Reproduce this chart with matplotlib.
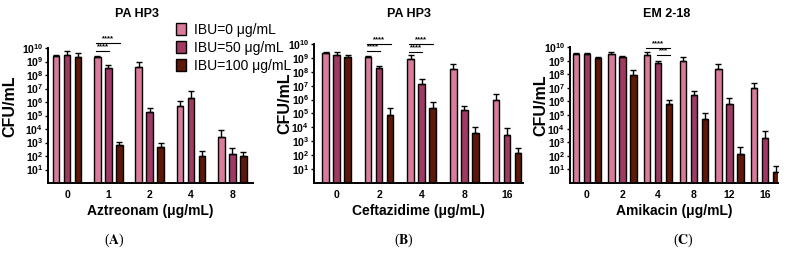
import numpy as np
import matplotlib
matplotlib.use("Agg")
import matplotlib.pyplot as plt
from matplotlib.patches import Patch
from matplotlib.ticker import FixedLocator, FixedFormatter, NullLocator

plt.rcParams["font.family"] = ["Liberation Sans", "DejaVu Sans"]
plt.rcParams["mathtext.fontset"] = "custom"
plt.rcParams["mathtext.rm"] = "Liberation Sans:bold"
plt.rcParams["mathtext.it"] = "Liberation Sans:bold"
plt.rcParams["mathtext.bf"] = "Liberation Sans:bold"

SERIES = ["IBU=0 \u03bcg/mL", "IBU=50 \u03bcg/mL", "IBU=100 \u03bcg/mL"]
COLORS = ["#DA7A9C", "#9E3A64", "#5E1808"]

# panel A: PA HP3, aztreonam
A_doses = ["0", "1", "2", "4", "8"]
A_mean = [[2.4e9, 2.1e9, 3.9e8, 5.1e5, 2.6e3],
          [3.2e9, 3.2e8, 1.7e5, 2.1e6, 150],
          [2.1e9, 630, 430, 98, 98]]
A_sd = [[8e8, 6e8, 6.1e8, 7.9e5, 5.7e3],
        [2.4e9, 2.2e8, 1.7e5, 5.0e6, 260],
        [2.2e9, 470, 520, 140, 100]]

# panel B: PA HP3, ceftazidime
B_doses = ["0", "2", "4", "8", "16"]
B_mean = [[2.1e9, 1.1e9, 7.9e8, 1.6e8, 1.0e6],
          [1.7e9, 1.9e8, 1.3e7, 1.7e5, 3.0e3],
          [1.1e9, 7.6e4, 2.5e5, 4.2e3, 140]]
B_sd = [[4e8, 2e8, 7e8, 2.1e8, 1.7e6],
        [8e8, 5e7, 1.5e7, 1.6e5, 5.5e3],
        [6e8, 1.7e5, 4.3e5, 6.8e3, 180]]

# panel C: EM 2-18, amikacin
C_doses = ["0", "2", "4", "8", "12", "16"]
C_mean = [[2.9e9, 3.2e9, 2.8e9, 1.0e9, 2.3e8, 1.0e7],
          [2.9e9, 1.7e9, 7.1e8, 2.9e6, 6.0e5, 1.9e3],
          [1.5e9, 8.5e7, 6.3e5, 4.8e4, 140, 7]]
C_sd = [[7e8, 1.1e9, 1.5e9, 9e8, 3.7e8, 1.1e7],
        [7e8, 4e8, 2.4e8, 2.9e6, 1.3e6, 4.9e3],
        [2e8, 1.1e8, 6.7e5, 8.2e4, 340, 12]]

# significance brackets: (group, series_from, series_to, line height, stars)
A_sig = [(1, 0, 2, 2.3e10, "****"), (1, 0, 1, 5.6e9, "****")]
B_sig = [(1, 0, 2, 1.05e10, "****"), (1, 0, 1, 3.2e9, "****"),
         (2, 0, 2, 1.05e10, "****"), (2, 0, 1, 2.8e9, "****")]
C_sig = [(2, 0, 2, 8e9, "****"), (2, 1, 2, 2.5e9, "***")]

PANELS = [
    dict(doses=A_doses, mean=A_mean, sd=A_sd, sig=A_sig, title="PA HP3",
         xlabel="Aztreonam (\u03bcg/mL)", tag="A", rect=[0.0611, 0.2907, 0.2608, 0.523],
         xlim=(-0.46, 4.50), title_px=137, tag_x=114, ylab_x=-0.150),
    dict(doses=B_doses, mean=B_mean, sd=B_sd, sig=B_sig, title="PA HP3",
         xlabel="Ceftazidime (\u03bcg/mL)", tag="B", rect=[0.3995, 0.2907, 0.2659, 0.539],
         xlim=(-0.53, 4.38), title_px=409, tag_x=404, ylab_x=-0.105),
    dict(doses=C_doses, mean=C_mean, sd=C_sd, sig=C_sig, title="EM 2-18",
         xlabel="Amikacin (\u03bcg/mL)", tag="C", rect=[0.7252, 0.2907, 0.2646, 0.527],
         xlim=(-0.47, 5.36), title_px=667, tag_x=683, ylab_x=-0.105),
]

W, H = 786, 258
fig = plt.figure(figsize=(W / 100, H / 100), dpi=100)

for p in PANELS:
    ax = fig.add_axes(p["rect"])
    n = len(p["doses"])
    x = np.arange(n)
    px_per_unit = p["rect"][2] * W / (p["xlim"][1] - p["xlim"][0])
    step = 11.0 / px_per_unit
    bw = 6.5 / px_per_unit
    for s in range(3):
        xs = x + (s - 1) * step
        m = np.array(p["mean"][s], dtype=float)
        e = np.array(p["sd"][s], dtype=float)
        ax.bar(xs, m, width=bw, color=COLORS[s], edgecolor="black", linewidth=1.0, zorder=2)
        ax.errorbar(xs, m, yerr=[np.zeros(n), e], fmt="none", ecolor="black",
                    elinewidth=1.0, capsize=2.2, capthick=1.0, zorder=3)
    for g, s0, s1, yl, stars in p["sig"]:
        x0 = g + (s0 - 1) * step - bw * 0.2
        x1 = g + (s1 - 1) * step + bw * 0.1
        ax.plot([x0, x1], [yl, yl], color="black", lw=0.8, clip_on=False, zorder=4)
        ax.text((x0 + x1) / 2, yl * 1.15, stars, ha="center", va="bottom",
                fontsize=5.5, fontweight="bold", clip_on=False)

    ax.set_yscale("log")
    ax.set_ylim(1, 1e10)
    ax.set_xlim(*p["xlim"])
    exps = list(range(1, 11))
    ax.yaxis.set_major_locator(FixedLocator([10.0 ** k for k in exps]))
    ax.yaxis.set_major_formatter(FixedFormatter([r"$10^{%d}$" % k for k in exps]))
    ax.yaxis.set_minor_locator(NullLocator())
    ax.set_xticks(x)
    ax.set_xticklabels(p["doses"], fontsize=7.5, fontweight="bold")
    ax.tick_params(axis="x", length=0, pad=5)
    ax.tick_params(axis="y", length=2.5, width=1, pad=1, labelsize=7.5)
    for side in ("top", "right"):
        ax.spines[side].set_visible(False)
    for side in ("left", "bottom"):
        ax.spines[side].set_linewidth(1.4)
    ax.set_ylabel("CFU/mL", fontsize=11.5, fontweight="bold")
    ax.yaxis.set_label_coords(p["ylab_x"], 0.57)
    ax.set_xlabel(p["xlabel"], fontsize=10, fontweight="bold", labelpad=3)
    fig.text(p["title_px"] / W, 1 - 14 / H, p["title"], ha="center", va="center",
             fontsize=9, fontweight="bold")
    fig.text(p["tag_x"] / W, 1 - 240 / H, r"($\mathbf{%s}$)" % p["tag"], ha="center",
             va="center", fontsize=10, family=["Liberation Serif", "DejaVu Serif"],
             math_fontfamily="stix")

handles = [Patch(facecolor=c, edgecolor="black", linewidth=1.0) for c in COLORS]
fig.legend(handles, SERIES, loc="upper left", bbox_to_anchor=(176 / W, 1 - 23 / H),
           frameon=False, fontsize=10, handlelength=0.7, handleheight=1.0,
           handletextpad=0.6, labelspacing=0.28, borderpad=0, borderaxespad=0)

fig.savefig("out.png", dpi=100)
